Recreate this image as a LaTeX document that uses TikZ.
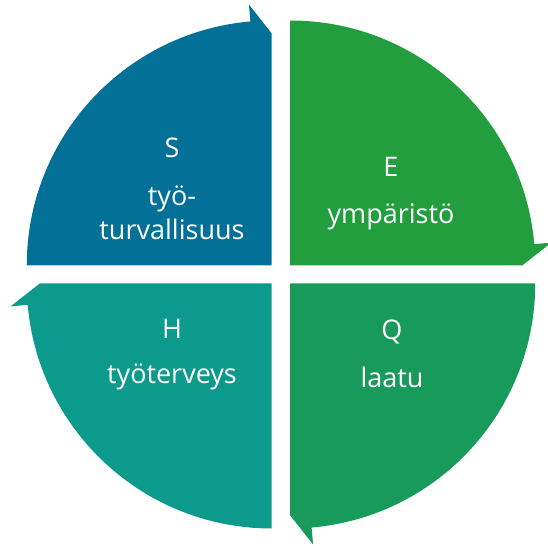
\documentclass[tikz,border=0pt]{standalone}
\usepackage{fontspec}
\setmainfont{Open Sans}
\usetikzlibrary{positioning}

\definecolor{sblue}{RGB}{3,112,152}
\definecolor{egreen}{RGB}{34,158,62}
\definecolor{qgreen}{RGB}{24,154,90}
\definecolor{hteal}{RGB}{12,154,140}

\begin{document}
\begin{tikzpicture}[x=0.5pt, y=0.5pt,
    lbl/.style={text=white, inner sep=0pt, anchor=base,
      font=\fontsize{13.5}{17}\selectfont}]
      \clip (-281,-271.5) rectangle (267,274.5);

      % Four quarters, each ending in a half arrow head (clockwise)
      \foreach \cx/\cy/\a/\col in {-9.25/9/180/sblue, 9.25/9/90/egreen,
                                  9.25/-9/0/qgreen, -9.25/-9/-90/hteal} {
        \fill[\col, shift={(\cx,\cy)}] (0,0) -- (\a:245)
          arc[start angle=\a, end angle=\a-85, radius=245]
          -- (\a-85:262) -- (\a-90:232) -- cycle;
      }

      % S
      \node[lbl] (s) at (-109,116.5) {S};
      \node[lbl] (s-top) at (-109,68.5) {työ-};
      \node[lbl] (s-bottom) at (-109,34.5) {turvallisuus};

      % E
      \node[lbl] (e) at (110,97.5) {E};
      \node[lbl] (e-text) at (110,50.5) {ympäristö};

      % H
      \node[lbl] (h) at (-109,-64.5) {H};
      \node[lbl] (h-text) at (-109,-109.5) {työterveys};

      % Q
      \node[lbl] (q) at (111,-65.5) {Q};
      \node[lbl] (q-text) at (111,-113.5) {laatu};
\end{tikzpicture}
\end{document}
